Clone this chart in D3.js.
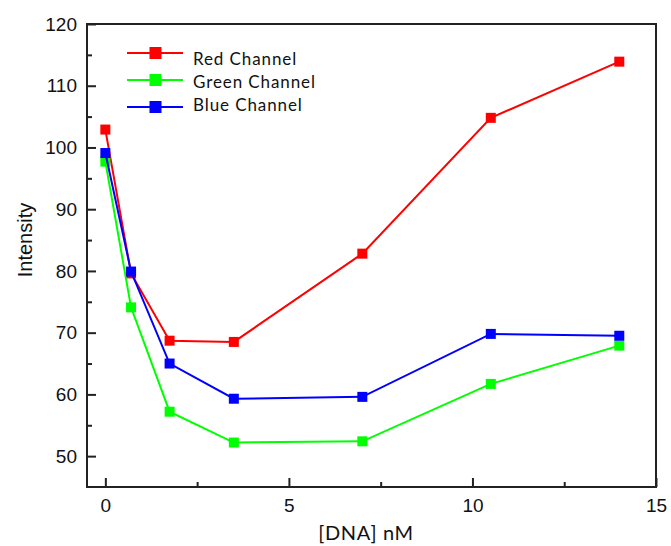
<!DOCTYPE html>
<html>
<head>
<meta charset="utf-8">
<script src="https://cdn.jsdelivr.net/npm/d3@7"></script>
<style>
  body { margin: 0; background: #fff; }
  svg { display: block; }
</style>
</head>
<body>
<script>
// data
var concentrations = [0, 0.7, 1.75, 3.5, 7, 10.5, 14];
var redChannel   = [102.9, 79.6, 68.7, 68.5, 82.8, 104.8, 113.9];
var greenChannel = [97.7, 74.1, 57.2, 52.2, 52.4, 61.7, 67.9];
var blueChannel  = [99.1, 79.9, 65.0, 59.3, 59.6, 69.8, 69.5];
var seriesNames  = ["Red Channel", "Green Channel", "Blue Channel"];
var seriesColors = ["#ff0000", "#00ff00", "#0000ff"];
var xTicks = [0, 5, 10, 15];
var yTicks = [50, 60, 70, 80, 90, 100, 110, 120];

var width = 671, height = 546;
var margin = {top: 24, right: 15, bottom: 59, left: 87};

var svg = d3.select("body").append("svg")
    .attr("width", width)
    .attr("height", height);

var x = d3.scaleLinear().domain([-0.5, 15]).range([margin.left, width - margin.right]);
var y = d3.scaleLinear().domain([45, 120]).range([height - margin.bottom, margin.top]);

var series = [redChannel, greenChannel, blueChannel].map(function (vals, i) {
    return {
        name: seriesNames[i],
        color: seriesColors[i],
        points: vals.map(function (v, j) { return {x: concentrations[j], y: v}; })
    };
});

// axes: ticks point inward
var xAxis = d3.axisBottom(x).tickValues(xTicks).tickSizeInner(-9).tickSizeOuter(0).tickPadding(12);
var xMinor = d3.axisBottom(x).tickValues([2.5, 7.5, 12.5]).tickSizeInner(-5).tickSizeOuter(0).tickFormat("");
var yAxis = d3.axisLeft(y).tickValues(yTicks).tickSizeInner(-9).tickSizeOuter(0).tickPadding(10);
var yMinor = d3.axisLeft(y).tickValues([55, 65, 75, 85, 95, 105, 115]).tickSizeInner(-5).tickSizeOuter(0).tickFormat("");

function styleAxis(g) {
    g.select(".domain").remove();
    g.selectAll(".tick line").attr("stroke", "#222").attr("stroke-width", 2);
    g.selectAll(".tick text")
        .attr("fill", "#111")
        .style("font-family", "'Liberation Sans', Arial, sans-serif")
        .style("font-size", "19px");
}

svg.append("g").attr("transform", "translate(0," + (height - margin.bottom) + ")").call(xAxis).call(styleAxis);
svg.append("g").attr("transform", "translate(0," + (height - margin.bottom) + ")").call(xMinor).call(styleAxis);
svg.append("g").attr("transform", "translate(" + margin.left + ",0)").call(yAxis).call(styleAxis);
svg.append("g").attr("transform", "translate(" + margin.left + ",0)").call(yMinor).call(styleAxis);

// frame
svg.append("rect")
    .attr("x", margin.left)
    .attr("y", margin.top)
    .attr("width", width - margin.left - margin.right)
    .attr("height", height - margin.top - margin.bottom)
    .attr("fill", "none")
    .attr("stroke", "#222")
    .attr("stroke-width", 2);

// lines and markers
var line = d3.line()
    .x(function (d) { return x(d.x); })
    .y(function (d) { return y(d.y); });

var groups = svg.selectAll(".series")
    .data(series)
    .enter().append("g")
    .attr("class", "series");

groups.append("path")
    .attr("d", function (d) { return line(d.points); })
    .attr("fill", "none")
    .attr("stroke", function (d) { return d.color; })
    .attr("stroke-width", 2);

groups.selectAll("rect")
    .data(function (d) { return d.points.map(function (p) { return {p: p, color: d.color}; }); })
    .enter().append("rect")
    .attr("x", function (d) { return x(d.p.x) - 5; })
    .attr("y", function (d) { return y(d.p.y) - 5; })
    .attr("width", 10)
    .attr("height", 10)
    .attr("fill", function (d) { return d.color; });

// legend (symbols and labels are spaced differently in the original)
var legend = svg.append("g").attr("transform", "translate(127,53)");

var symbols = legend.selectAll("g")
    .data(series)
    .enter().append("g")
    .attr("transform", function (d, i) { return "translate(0," + (i * 27) + ")"; });

symbols.append("line")
    .attr("x1", 0).attr("x2", 56)
    .attr("stroke", function (d) { return d.color; })
    .attr("stroke-width", 2);

symbols.append("rect")
    .attr("x", 22.5).attr("y", -6)
    .attr("width", 12).attr("height", 12)
    .attr("fill", function (d) { return d.color; });

legend.selectAll("text")
    .data(series)
    .enter().append("text")
    .attr("x", 66)
    .attr("y", function (d, i) { return 12 + i * 23; })
    .style("font-family", "Lato, 'Open Sans', sans-serif")
    .style("font-size", "17px")
    .style("letter-spacing", "0.9px")
    .attr("fill", "#111")
    .text(function (d) { return d.name; });

// axis titles
svg.append("text")
    .attr("transform", "translate(32,240) rotate(-90)")
    .attr("text-anchor", "middle")
    .style("font-family", "'Liberation Sans', Arial, sans-serif")
    .style("font-size", "20px")
    .attr("fill", "#111")
    .text("Intensity");

svg.append("text")
    .attr("x", 366)
    .attr("y", 540)
    .attr("text-anchor", "middle")
    .style("font-family", "Lato, 'Open Sans', sans-serif")
    .style("font-size", "20px")
    .style("letter-spacing", "0.6px")
    .attr("fill", "#111")
    .text("[DNA] nM");
</script>
</body>
</html>
